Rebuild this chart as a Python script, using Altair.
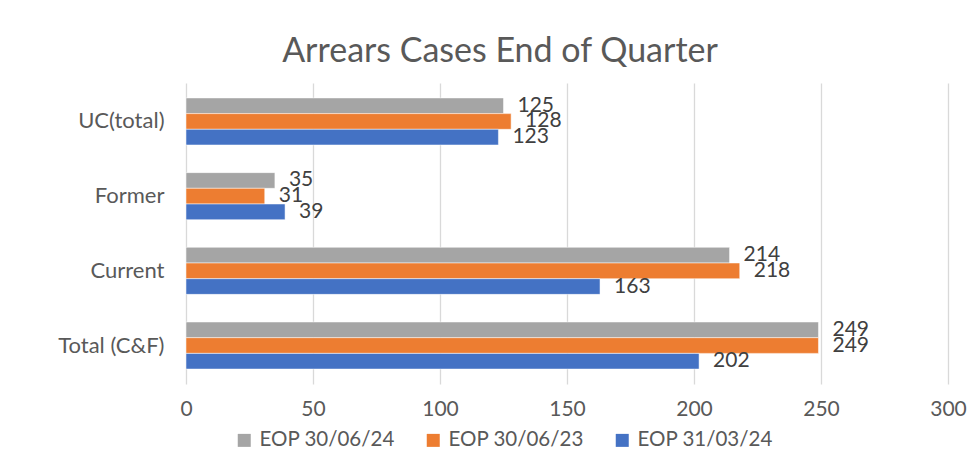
import altair as alt
import pandas as pd

categories = ["UC(total)", "Former", "Current", "Total (C&F)"]
series = ["EOP 30/06/24", "EOP 30/06/23", "EOP 31/03/24"]
colors = ["#A5A5A5", "#ED7D31", "#4472C4"]
vals_0624 = [125, 35, 214, 249]
vals_0623 = [128, 31, 218, 249]
vals_0324 = [123, 39, 163, 202]
x_ticks = [0, 50, 100, 150, 200, 250, 300]

rows = []
for s, vals in zip(series, [vals_0624, vals_0623, vals_0324]):
    for c, v in zip(categories, vals):
        rows.append({"category": c, "series": s, "value": v})
df = pd.DataFrame(rows)

FONT = "Lato"

base = alt.Chart(df).encode(
    y=alt.Y("category:N", sort=categories, title=None,
            scale=alt.Scale(paddingInner=0.37, paddingOuter=0.2),
            axis=alt.Axis(ticks=False, domain=False, labelPadding=22, labelFontSize=22,
                          labelColor="#595959", labelFont=FONT)),
    yOffset=alt.YOffset("series:N", sort=series,
                        scale=alt.Scale(paddingInner=0, paddingOuter=0)),
    x=alt.X("value:Q", scale=alt.Scale(domain=[0, 300], nice=False), title=None,
            axis=alt.Axis(values=x_ticks, grid=True, gridColor="#D9D9D9", gridWidth=1.3,
                          domain=False, ticks=False, labelPadding=14, labelFontSize=21,
                          labelFlush=False,
                          labelColor="#595959", labelFont=FONT)),
)

bars = base.mark_bar(stroke="white", strokeWidth=0.5).encode(
    color=alt.Color("series:N", sort=series,
                    scale=alt.Scale(domain=series, range=colors),
                    legend=alt.Legend(title=None, orient="none", legendX=48, legendY=347,
                                      direction="horizontal", symbolType="square",
                                      symbolSize=169, symbolStrokeWidth=0,
                                      labelFontSize=20.5, labelColor="#595959", labelFont=FONT,
                                      columnPadding=28, labelOffset=5))
)

labels = base.mark_text(align="left", baseline="middle", dx=14, fontSize=21,
                        color="#404040", font=FONT).encode(text="value:Q")

chart = (bars + labels).properties(
    width=762, height=301,
    title=alt.TitleParams(text="Arrears Cases End of Quarter", fontSize=34, font=FONT,
                          color="#595959", fontWeight="normal", anchor="middle",
                          offset=14, dx=-67),
    padding={"left": 178, "top": 75, "right": 20, "bottom": 70},
    autosize="none",
).configure_view(stroke=None)

chart.save("out.html", embed_options={"renderer": "svg", "actions": False})
